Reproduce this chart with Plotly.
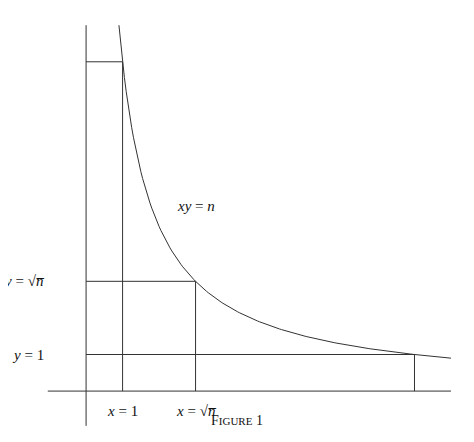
import plotly.graph_objects as go

# --- dados da figura: hipérbole xy = n, com n = 9 ---
n = 9
curve_x = [0.9 + i * 0.05 for i in range(183)]
curve_y = [n / x for x in curve_x]

# segmentos (x0, y0, x1, y1)
segments = [
    (0, 9, 1, 9), (1, 0, 1, 9),
    (0, 3, 3, 3), (3, 0, 3, 3),
    (0, 1, 9, 1), (9, 0, 9, 1),
]
axis_x = (-1.05, 10.0)
axis_y = (-0.95, 10.0)

labels = [
    (3.0, 5.05, "<i>xy</i> = <i>n</i>"),
    (-1.1, 3.0, "<i>y</i> = √<i>n̅</i>"),
    (-1.1, 1.0, "<i>y</i> = 1"),
    (1.0, -0.55, "<i>x</i> = 1"),
    (3.0, -0.55, "<i>x</i> = √<i>n̅</i>"),
]

cor = "#333"
fig = go.Figure()
fig.add_trace(go.Scatter(x=curve_x, y=curve_y, mode="lines",
                         line=dict(color=cor, width=1), hoverinfo="skip"))

fig.add_shape(type="line", x0=axis_x[0], y0=0, x1=axis_x[1], y1=0, line=dict(color=cor, width=1))
fig.add_shape(type="line", x0=0, y0=axis_y[0], x1=0, y1=axis_y[1], line=dict(color=cor, width=1))
for x0, y0, x1, y1 in segments:
    fig.add_shape(type="line", x0=x0, y0=y0, x1=x1, y1=y1, line=dict(color=cor, width=1))

for x, y, t in labels:
    anchor = "right" if x < 0 else "center"
    fig.add_annotation(x=x, y=y, text=t, showarrow=False, xanchor=anchor,
                       font=dict(family="Liberation Serif", size=15, color="#111"))

fig.add_annotation(x=229 / 474, y=1 - 422 / 442, xref="paper", yref="paper",
                   text="F<span style='font-size:11px'>IGURE</span> 1", showarrow=False,
                   font=dict(family="Liberation Serif", size=14, color="#111"))

fig.update_layout(
    width=474, height=442, margin=dict(l=0, r=0, t=0, b=0),
    paper_bgcolor="white", plot_bgcolor="white", showlegend=False,
    xaxis=dict(range=[-2.14, 10.85], visible=False, fixedrange=True),
    yaxis=dict(range=[-1.61, 10.47], visible=False, fixedrange=True),
)
fig.write_html("out.html")
